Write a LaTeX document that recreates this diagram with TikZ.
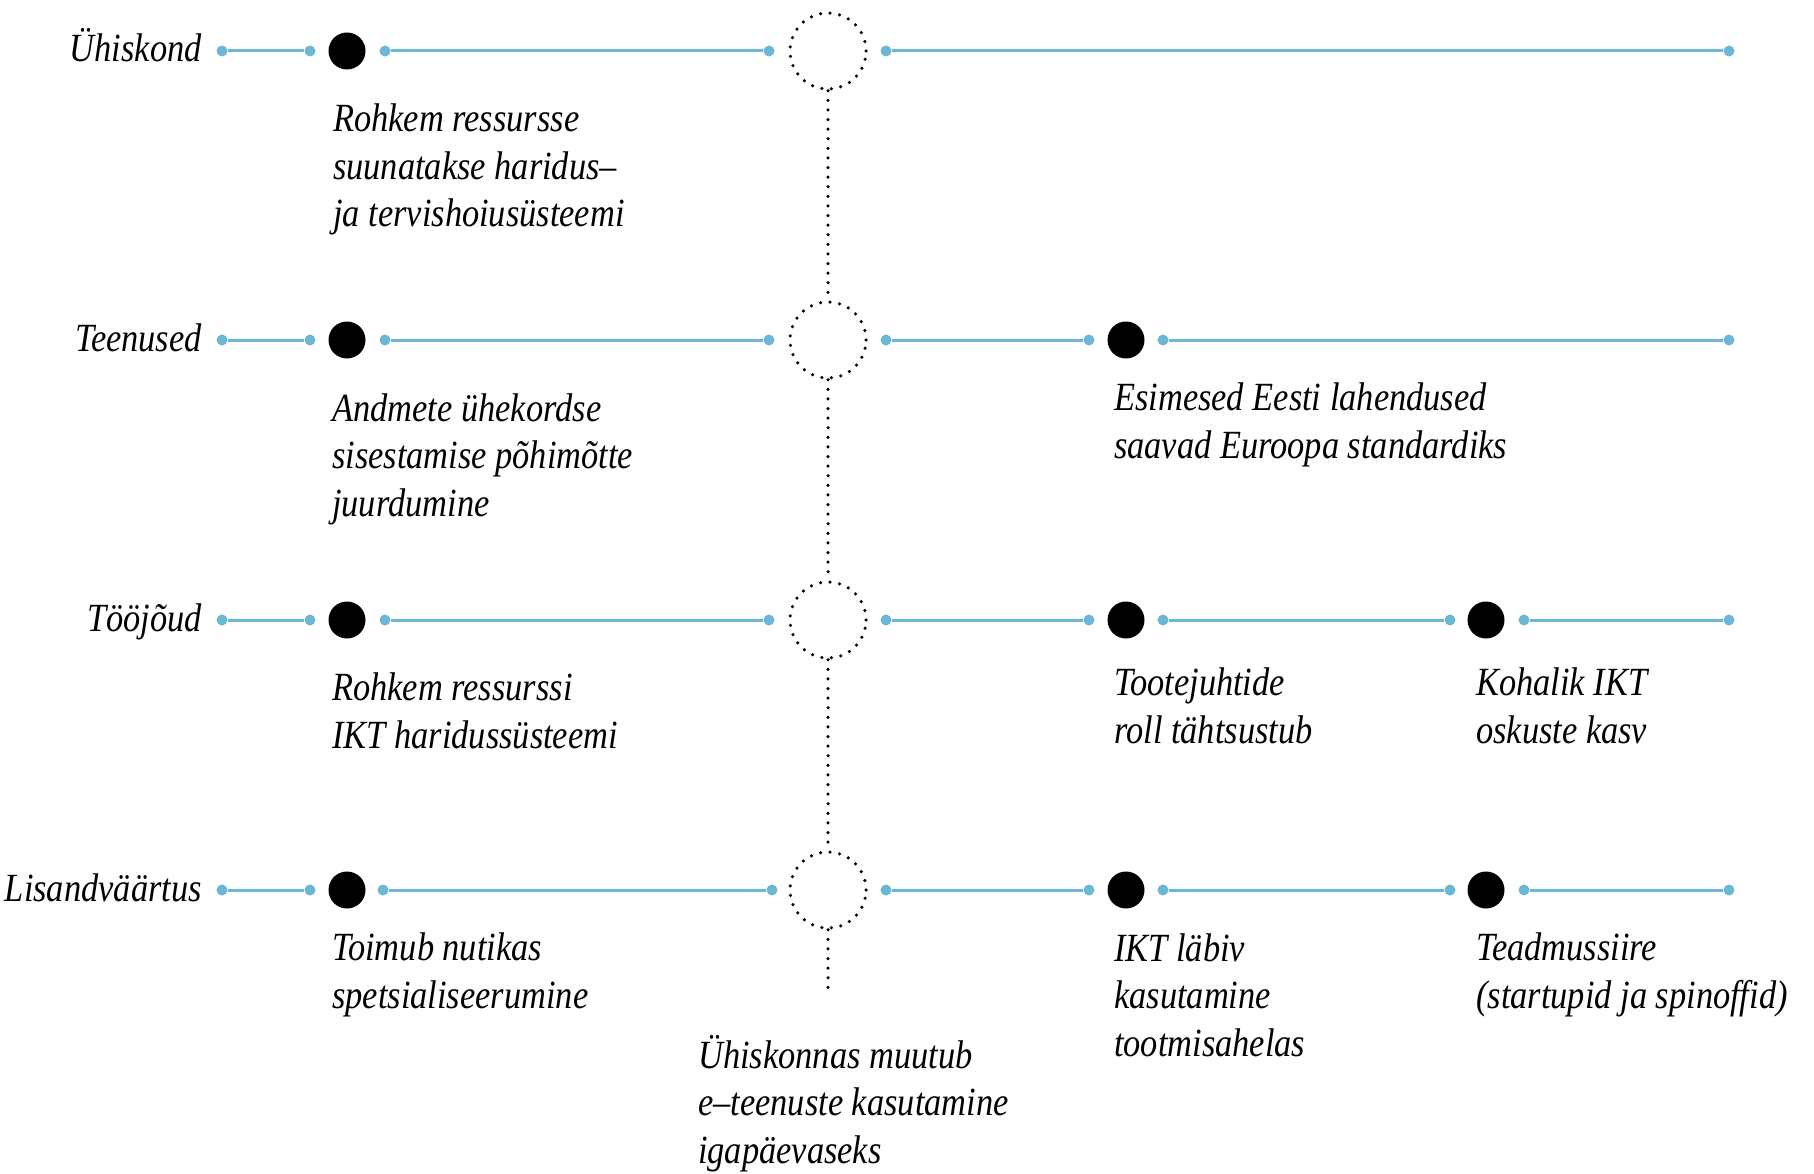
\documentclass[tikz,border=0pt]{standalone}
\usepackage{fontspec}
\setmainfont{Liberation Serif}[FakeStretch=0.86]
\usepackage{tikz}
\definecolor{lineblue}{RGB}{108,183,214}
\newcommand\captionfont{\fontsize{40}{47.5}\selectfont\itshape}
\tikzset{
	tick/.style={circle, fill=lineblue, inner sep=0pt, minimum size=11pt},
	event/.style={circle, fill=black, inner sep=0pt, minimum size=37pt},
	hub/.style={circle, draw, line width=3.5pt, dash pattern=on 0pt off 9.6pt, line cap=round, inner sep=0pt, minimum size=76pt},
	link/.style={draw=lineblue, line width=3pt},
	stem/.style={line width=3.5pt, dash pattern=on 0pt off 9.6pt, line cap=round},
	% base of a multi-line caption = baseline of its last line
	caption/.style={align=left, anchor=base west, inner sep=0pt, font=\captionfont},
	rowname/.style={anchor=base east, inner sep=0pt, font=\captionfont}
}

\begin{document}
\begin{tikzpicture}[x=1pt, y=-1pt]
			%%%%% START %%%%%
			\useasboundingbox (0, 0) rectangle (1814, 1174);
			
			% Ühiskond
			\node[rowname] (name1) at (202, 62) {Ühiskond};
			\node[tick] (a1) at (222, 51) {};
			\node[tick] (b1) at (310, 51) {};
			\node[event] (e1) at (347, 51) {};
			\node[tick] (c1) at (385, 51) {};
			\node[tick] (d1) at (769, 51) {};
			\node[hub] (hub1) at (828, 51) {};
			\node[tick] (f1) at (886, 51) {};
			\node[tick] (z1) at (1729, 51) {};
			\draw[link] (a1) -- (b1);
			\draw[link] (c1) -- (d1);
			\draw[link] (f1) -- (z1);
			\node[caption] (t1) at (333, 227) {Rohkem ressursse\\suunatakse haridus–\\ja tervishoiusüsteemi};
			
			% Teenused
			\node[rowname] (name2) at (202, 351) {Teenused};
			\node[tick] (a2) at (222, 340) {};
			\node[tick] (b2) at (310, 340) {};
			\node[event] (e2) at (347, 340) {};
			\node[tick] (c2) at (385, 340) {};
			\node[tick] (d2) at (769, 340) {};
			\node[hub] (hub2) at (828, 340) {};
			\node[tick] (f2) at (886, 340) {};
			\node[tick] (g2) at (1089, 340) {};
			\node[event] (k2) at (1126, 340) {};
			\node[tick] (m2) at (1163, 340) {};
			\node[tick] (z2) at (1729, 340) {};
			\draw[link] (a2) -- (b2);
			\draw[link] (c2) -- (d2);
			\draw[link] (f2) -- (g2);
			\draw[link] (m2) -- (z2);
			\node[caption] (t2) at (332, 516) {Andmete ühekordse\\sisestamise põhimõtte\\juurdumine};
			\node[caption] (u2) at (1114, 458) {Esimesed Eesti lahendused\\saavad Euroopa standardiks};
			
			% Tööjõud
			\node[rowname] (name3) at (202, 631) {Tööjõud};
			\node[tick] (a3) at (222, 620) {};
			\node[tick] (b3) at (310, 620) {};
			\node[event] (e3) at (347, 620) {};
			\node[tick] (c3) at (385, 620) {};
			\node[tick] (d3) at (769, 620) {};
			\node[hub] (hub3) at (828, 620) {};
			\node[tick] (f3) at (886, 620) {};
			\node[tick] (g3) at (1089, 620) {};
			\node[event] (k3) at (1126, 620) {};
			\node[tick] (m3) at (1163, 620) {};
			\node[tick] (p3) at (1450, 620) {};
			\node[event] (q3) at (1486, 620) {};
			\node[tick] (r3) at (1524, 620) {};
			\node[tick] (z3) at (1729, 620) {};
			\draw[link] (a3) -- (b3);
			\draw[link] (c3) -- (d3);
			\draw[link] (f3) -- (g3);
			\draw[link] (m3) -- (p3);
			\draw[link] (r3) -- (z3);
			\node[caption] (t3) at (332, 748) {Rohkem ressurssi\\IKT haridussüsteemi};
			\node[caption] (u3) at (1114, 743) {Tootejuhtide\\roll tähtsustub};
			\node[caption] (v3) at (1476, 743) {Kohalik IKT\\oskuste kasv};
			
			% Lisandväärtus
			\node[rowname] (name4) at (202, 901) {Lisandväärtus};
			\node[tick] (a4) at (222, 890) {};
			\node[tick] (b4) at (310, 890) {};
			\node[event] (e4) at (347, 890) {};
			\node[tick] (c4) at (383, 890) {};
			\node[tick] (d4) at (772, 890) {};
			\node[hub] (hub4) at (828, 890) {};
			\node[tick] (f4) at (886, 890) {};
			\node[tick] (g4) at (1089, 890) {};
			\node[event] (k4) at (1126, 890) {};
			\node[tick] (m4) at (1163, 890) {};
			\node[tick] (p4) at (1450, 890) {};
			\node[event] (q4) at (1486, 890) {};
			\node[tick] (r4) at (1524, 890) {};
			\node[tick] (z4) at (1729, 890) {};
			\draw[link] (a4) -- (b4);
			\draw[link] (c4) -- (d4);
			\draw[link] (f4) -- (g4);
			\draw[link] (m4) -- (p4);
			\draw[link] (r4) -- (z4);
			\node[caption] (t4) at (332, 1008) {Toimub nutikas\\spetsialiseerumine};
			\node[caption] (u4) at (1114, 1056) {IKT läbiv\\kasutamine\\tootmisahelas};
			\node[caption] (v4) at (1476, 1008) {Teadmussiire\\(startupid ja spinoffid)};
			
			% dotted stem through the hubs
			\coordinate (stemend) at (828, 995);
			\draw[stem] (hub1) -- (hub2);
			\draw[stem] (hub2) -- (hub3);
			\draw[stem] (hub3) -- (hub4);
			\draw[stem] (hub4) -- (stemend);
			\node[caption] (bottom) at (698, 1163) {Ühiskonnas muutub\\e–teenuste kasutamine\\igapäevaseks};
			
			%%%%% END %%%%%
\end{tikzpicture}
\end{document}
